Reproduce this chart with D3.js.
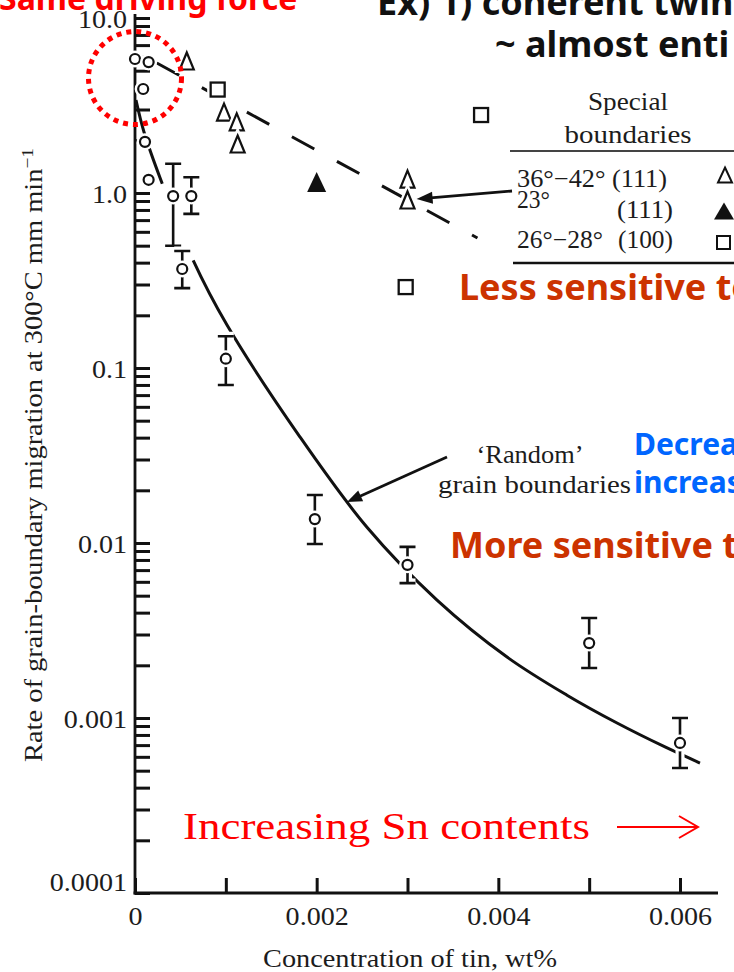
<!DOCTYPE html>
<html>
<head>
<meta charset="utf-8">
<script src="https://cdn.jsdelivr.net/npm/d3@7"></script>
<style>
  html, body { margin: 0; padding: 0; background: #fff; overflow: hidden; }
  svg { display: block; }
  .serif { font-family: "Liberation Serif", "Times New Roman", serif; fill: #1c1c1c; }
  .note { font-family: "Noto Sans", "Open Sans", sans-serif; font-weight: 700; }
</style>
</head>
<body>
<svg id="chart" width="734" height="972"></svg>
<script>
// ---- Random grain boundaries: tin content (wt%) vs migration rate (mm/min) ----
const randomTin  = [0, 0.00015, 0.00009, 0.00011, 0.00015, 0.00042, 0.00062, 0.00052, 0.0010, 0.00198, 0.0030, 0.0050, 0.0060];
const randomRate = [5.83, 5.6, 3.93, 1.96, 1.19, 0.96, 0.96, 0.368, 0.113, 0.0137, 0.0075, 0.00268, 0.00072];
const randomHigh = [null, null, null, null, null, 1.47, 1.23, 0.466, 0.152, 0.0188, 0.0095, 0.00373, 0.0010];
const randomLow  = [null, null, null, null, null, 0.50, 0.76, 0.286, 0.080, 0.00987, 0.0059, 0.00193, 0.000518];

// Fitted trend through the random-boundary data
const trendTin  = [0.000011, 0.000099, 0.000297, 0.000639, 0.001013, 0.001817, 0.002554, 0.003325, 0.004096, 0.004756, 0.005307, 0.005835, 0.00622];
const trendRate = [3.40, 2.23, 1.14, 0.414, 0.176, 0.0403, 0.0123, 0.00472, 0.00223, 0.00135, 0.000936, 0.000683, 0.000553];
const trendGaps = [[0.00030, 0.00064]];

// ---- Special boundaries ----
const twin111Tin  = [0.00057, 0.00098, 0.00112, 0.00113, 0.0030, 0.0030];   // 36°–42° (111)
const twin111Rate = [5.68, 2.90, 2.55, 1.905, 1.20, 0.912];
const tilt23Tin   = [0.0020];                                               // 23° (111)
const tilt23Rate  = [1.156];
const tilt100Tin  = [0.00091, 0.00381, 0.00298];                            // 26°–28° (100)
const tilt100Rate = [3.9, 2.79, 0.29];

// Dashed trend for special boundaries
const specialTin  = [0.00024, 0.00377];
const specialRate = [5.53, 0.553];

// ---- Axes ----
const yTickValues = [0.0001, 0.001, 0.01, 0.1, 1, 10];
const yTickLabels = ["0.0001", "0.001", "0.01", "0.1", "1.0", "10.0"];
const xTickValues = [0, 0.001, 0.002, 0.003, 0.004, 0.005, 0.006];
const xTickLabels = ["0", "", "0.002", "", "0.004", "", "0.006"];

const svg = d3.select("#chart");
const x = d3.scaleLinear().domain([0, 0.006]).range([135, 680]);
const y = d3.scaleLog().domain([0.0001, 10]).range([893, 18]);

// stretch a text element horizontally to a target width
function fitWidth(sel, w) {
  sel.attr("textLength", w).attr("lengthAdjust", "spacingAndGlyphs");
}

// ---- Y axis (inward ticks on every log step) ----
const yAxis = d3.axisLeft(y)
  .tickValues(y.ticks())
  .tickSizeInner(-15).tickSizeOuter(0).tickPadding(8)
  .tickFormat(d => {
    const i = yTickValues.findIndex(v => Math.abs(Math.log10(v) - Math.log10(d)) < 1e-6);
    return i >= 0 ? yTickLabels[i] : "";
  });
const gy = svg.append("g").attr("transform", `translate(${x(0)},0)`).call(yAxis);
gy.select(".domain").remove();
gy.selectAll(".tick line").attr("stroke", "#111").attr("stroke-width", 3);
gy.selectAll(".tick text").attr("class", "serif").attr("font-size", 26).attr("dy", "0.38em")
  .each(function () { const t = d3.select(this); if (t.text()) fitWidth(t, this.getComputedTextLength() * 1.08); });
// lowest label sits a little above the x axis line
gy.selectAll(".tick text").filter(d => Math.abs(d - 0.0001) < 1e-9).attr("y", -12);
svg.append("line").attr("x1", x(0)).attr("x2", x(0)).attr("y1", y(0.0001) + 1.4).attr("y2", 14)
  .attr("stroke", "#111").attr("stroke-width", 2.8);

// ---- X axis ----
const xAxis = d3.axisBottom(x)
  .tickValues(xTickValues)
  .tickSizeInner(-15).tickSizeOuter(0).tickPadding(14)
  .tickFormat((d, i) => xTickLabels[i]);
const gx = svg.append("g").attr("transform", `translate(0,${y(0.0001)})`).call(xAxis);
gx.select(".domain").remove();
gx.selectAll(".tick line").attr("stroke", "#111").attr("stroke-width", 3);
gx.selectAll(".tick text").attr("class", "serif").attr("font-size", 26)
  .each(function () { const t = d3.select(this); if (t.text()) fitWidth(t, this.getComputedTextLength() * 1.08); });
svg.append("line").attr("x1", x(0) - 1.4).attr("x2", 718).attr("y1", y(0.0001)).attr("y2", y(0.0001))
  .attr("stroke", "#111").attr("stroke-width", 2.8);

// ---- Axis titles ----
svg.append("text").attr("class", "serif").attr("font-size", 25)
  .attr("x", 410).attr("y", 967).attr("text-anchor", "middle")
  .text("Concentration of tin, wt%").call(fitWidth, 294);

const yTitle = svg.append("text").attr("class", "serif").attr("font-size", 25)
  .attr("transform", "translate(42,455) rotate(-90)").attr("text-anchor", "middle");
yTitle.append("tspan").text("Rate of grain-boundary migration at 300°C mm min");
yTitle.append("tspan").attr("dy", -9).attr("font-size", 17).text("−1");
fitWidth(yTitle, 614);

// ---- Trend lines ----
const line = d3.line().x(d => x(d[0])).y(d => y(d[1])).curve(d3.curveCatmullRom.alpha(0.5));
const trend = svg.append("path")
  .attr("d", line(trendTin.map((t, i) => [t, trendRate[i]])))
  .attr("fill", "none").attr("stroke", "#111").attr("stroke-width", 3);
// hide the trend where it runs behind the clustered low-tin error bars
(function () {
  const node = trend.node(), L = node.getTotalLength(), step = 0.5;
  const dash = []; let state = true, run = 0;
  for (let s = 0; s <= L; s += step) {
    const p = node.getPointAtLength(s), tv = x.invert(p.x);
    const vis = !trendGaps.some(([a, b]) => tv > a && tv < b);
    if (vis !== state) { dash.push(run); run = 0; state = vis; }
    run += step;
  }
  dash.push(run);
  trend.attr("stroke-dasharray", dash.join(" "));
})();

svg.append("path")
  .attr("d", d3.line().x(d => x(d[0])).y(d => y(d[1]))(specialTin.map((t, i) => [t, specialRate[i]])))
  .attr("fill", "none").attr("stroke", "#111").attr("stroke-width", 3)
  .attr("stroke-dasharray", "25.5 25.8");

// ---- Markers (white halo first so lines break around them) ----
const mk = svg.append("g");
function triPath(cx, cy, w, h) {
  return `M${cx},${cy - h / 2}L${cx + w / 2},${cy + h / 2}L${cx - w / 2},${cy + h / 2}Z`;
}

// error bars
randomTin.forEach((t, i) => {
  if (randomHigh[i] == null) return;
  const cx = x(t), y1 = y(randomHigh[i]), y2 = y(randomLow[i]);
  const bar = `M${cx},${y1}V${y2}M${cx - 8},${y1}H${cx + 8}M${cx - 8},${y2}H${cx + 8}`;
  mk.append("path").attr("d", bar).attr("stroke", "#fff").attr("stroke-width", 9).attr("fill", "none");
  mk.append("path").attr("d", bar).attr("stroke", "#111").attr("stroke-width", 2.6).attr("fill", "none");
});
// circles
randomTin.forEach((t, i) => {
  mk.append("circle").attr("cx", x(t)).attr("cy", y(randomRate[i])).attr("r", 5)
    .attr("fill", "#fff").attr("stroke", "#fff").attr("stroke-width", 7);
  mk.append("circle").attr("cx", x(t)).attr("cy", y(randomRate[i])).attr("r", 5)
    .attr("fill", "#fff").attr("stroke", "#111").attr("stroke-width", 2.2);
});
// open triangles
twin111Tin.forEach((t, i) => {
  const d = triPath(x(t), y(twin111Rate[i]), 14, 17);
  mk.append("path").attr("d", d).attr("fill", "#fff").attr("stroke", "#fff").attr("stroke-width", 7);
  mk.append("path").attr("d", d).attr("fill", "#fff").attr("stroke", "#111").attr("stroke-width", 2.2);
});
// filled triangles
tilt23Tin.forEach((t, i) => {
  mk.append("path").attr("d", triPath(x(t), y(tilt23Rate[i]), 19, 20)).attr("fill", "#111");
});
// squares
tilt100Tin.forEach((t, i) => {
  const cx = x(t), cy = y(tilt100Rate[i]);
  mk.append("rect").attr("x", cx - 7).attr("y", cy - 7).attr("width", 14).attr("height", 14)
    .attr("fill", "#fff").attr("stroke", "#fff").attr("stroke-width", 7);
  mk.append("rect").attr("x", cx - 7).attr("y", cy - 7).attr("width", 14).attr("height", 14)
    .attr("fill", "#fff").attr("stroke", "#111").attr("stroke-width", 2.3);
});

// ---- Arrows ----
function arrow(x1, y1, x2, y2, len, w) {
  const a = Math.atan2(y2 - y1, x2 - x1), c = Math.cos(a), s = Math.sin(a);
  const bx = x2 - len * c, by = y2 - len * s;
  svg.append("line").attr("x1", x1).attr("y1", y1).attr("x2", bx + 2 * c).attr("y2", by + 2 * s)
    .attr("stroke", "#111").attr("stroke-width", 2.8);
  svg.append("path")
    .attr("d", `M${x2},${y2}L${bx - s * w / 2},${by + c * w / 2}L${bx + s * w / 2},${by - c * w / 2}Z`)
    .attr("fill", "#111");
}
arrow(512, 191, x(0.0031), y(0.924), 16, 12);
arrow(447, 457, x(0.002334), y(0.01715), 15, 12);

// ---- Legend ----
const lg = svg.append("g");
lg.append("text").attr("class", "serif").attr("font-size", 25).attr("x", 628).attr("y", 110)
  .attr("text-anchor", "middle").text("Special").call(fitWidth, 80);
lg.append("text").attr("class", "serif").attr("font-size", 25).attr("x", 628).attr("y", 143)
  .attr("text-anchor", "middle").text("boundaries").call(fitWidth, 127);
lg.append("line").attr("x1", 510).attr("x2", 734).attr("y1", 151).attr("y2", 151)
  .attr("stroke", "#444").attr("stroke-width", 2);
lg.append("line").attr("x1", 513).attr("x2", 734).attr("y1", 263).attr("y2", 263)
  .attr("stroke", "#111").attr("stroke-width", 2.5);
lg.append("text").attr("class", "serif").attr("font-size", 25).attr("x", 517).attr("y", 187)
  .text("36°−42° (111)").call(fitWidth, 150);
lg.append("text").attr("class", "serif").attr("font-size", 25).attr("x", 517).attr("y", 208)
  .text("23°").call(fitWidth, 33);
lg.append("text").attr("class", "serif").attr("font-size", 25).attr("x", 617).attr("y", 218)
  .text("(111)").call(fitWidth, 56);
lg.append("text").attr("class", "serif").attr("font-size", 25).attr("x", 517).attr("y", 248)
  .text("26°−28°").call(fitWidth, 86);
lg.append("text").attr("class", "serif").attr("font-size", 25).attr("x", 618).attr("y", 248)
  .text("(100)").call(fitWidth, 55);
lg.append("path").attr("d", triPath(725, 175, 14, 15)).attr("fill", "#fff").attr("stroke", "#111").attr("stroke-width", 2);
lg.append("path").attr("d", triPath(724, 211, 20, 17)).attr("fill", "#111");
lg.append("rect").attr("x", 717).attr("y", 236).attr("width", 13).attr("height", 13)
  .attr("fill", "#fff").attr("stroke", "#111").attr("stroke-width", 2);

// ---- Curve label ----
svg.append("text").attr("class", "serif").attr("font-size", 25).attr("x", 530).attr("y", 463)
  .attr("text-anchor", "middle").text("‘Random’").call(fitWidth, 107);
svg.append("text").attr("class", "serif").attr("font-size", 25).attr("x", 438).attr("y", 493)
  .text("grain boundaries").call(fitWidth, 193);

// ---- Highlight of equal driving force region ----
svg.append("circle").attr("cx", x(0)).attr("cy", y(4.54)).attr("r", 46.5)
  .attr("fill", "none").attr("stroke", "#ff0000").attr("stroke-width", 5)
  .attr("stroke-dasharray", "5 5");

// ---- Notes ----
svg.append("text").attr("class", "note").attr("font-size", 32).attr("fill", "#ff0000")
  .attr("x", -1).attr("y", 10).text("Same driving force");
svg.append("text").attr("class", "note").attr("font-size", 36).attr("fill", "#111")
  .attr("x", 377).attr("y", 15).text("Ex) 1) coherent twin");
svg.append("text").attr("class", "note").attr("font-size", 36).attr("fill", "#111")
  .attr("x", 495).attr("y", 57).text("~ almost enti");
svg.append("text").attr("class", "note").attr("font-size", 36).attr("fill", "#cc3300")
  .attr("x", 459).attr("y", 300).text("Less sensitive to");
svg.append("text").attr("class", "note").attr("font-size", 30).attr("fill", "#0066ff")
  .attr("x", 634).attr("y", 455).text("Decrea");
svg.append("text").attr("class", "note").attr("font-size", 30).attr("fill", "#0066ff")
  .attr("x", 634).attr("y", 493).text("increas");
svg.append("text").attr("class", "note").attr("font-size", 36).attr("fill", "#cc3300")
  .attr("x", 450).attr("y", 558).text("More sensitive t");

svg.append("text").attr("class", "serif").attr("font-size", 37)
  .style("fill", "#ff0000").attr("x", 183).attr("y", 839).text("Increasing Sn contents").call(fitWidth, 407);
svg.append("path").attr("d", "M617,827H698M679,816L698,827L679,838")
  .attr("fill", "none").attr("stroke", "#ff0000").attr("stroke-width", 2);
</script>
</body>
</html>
